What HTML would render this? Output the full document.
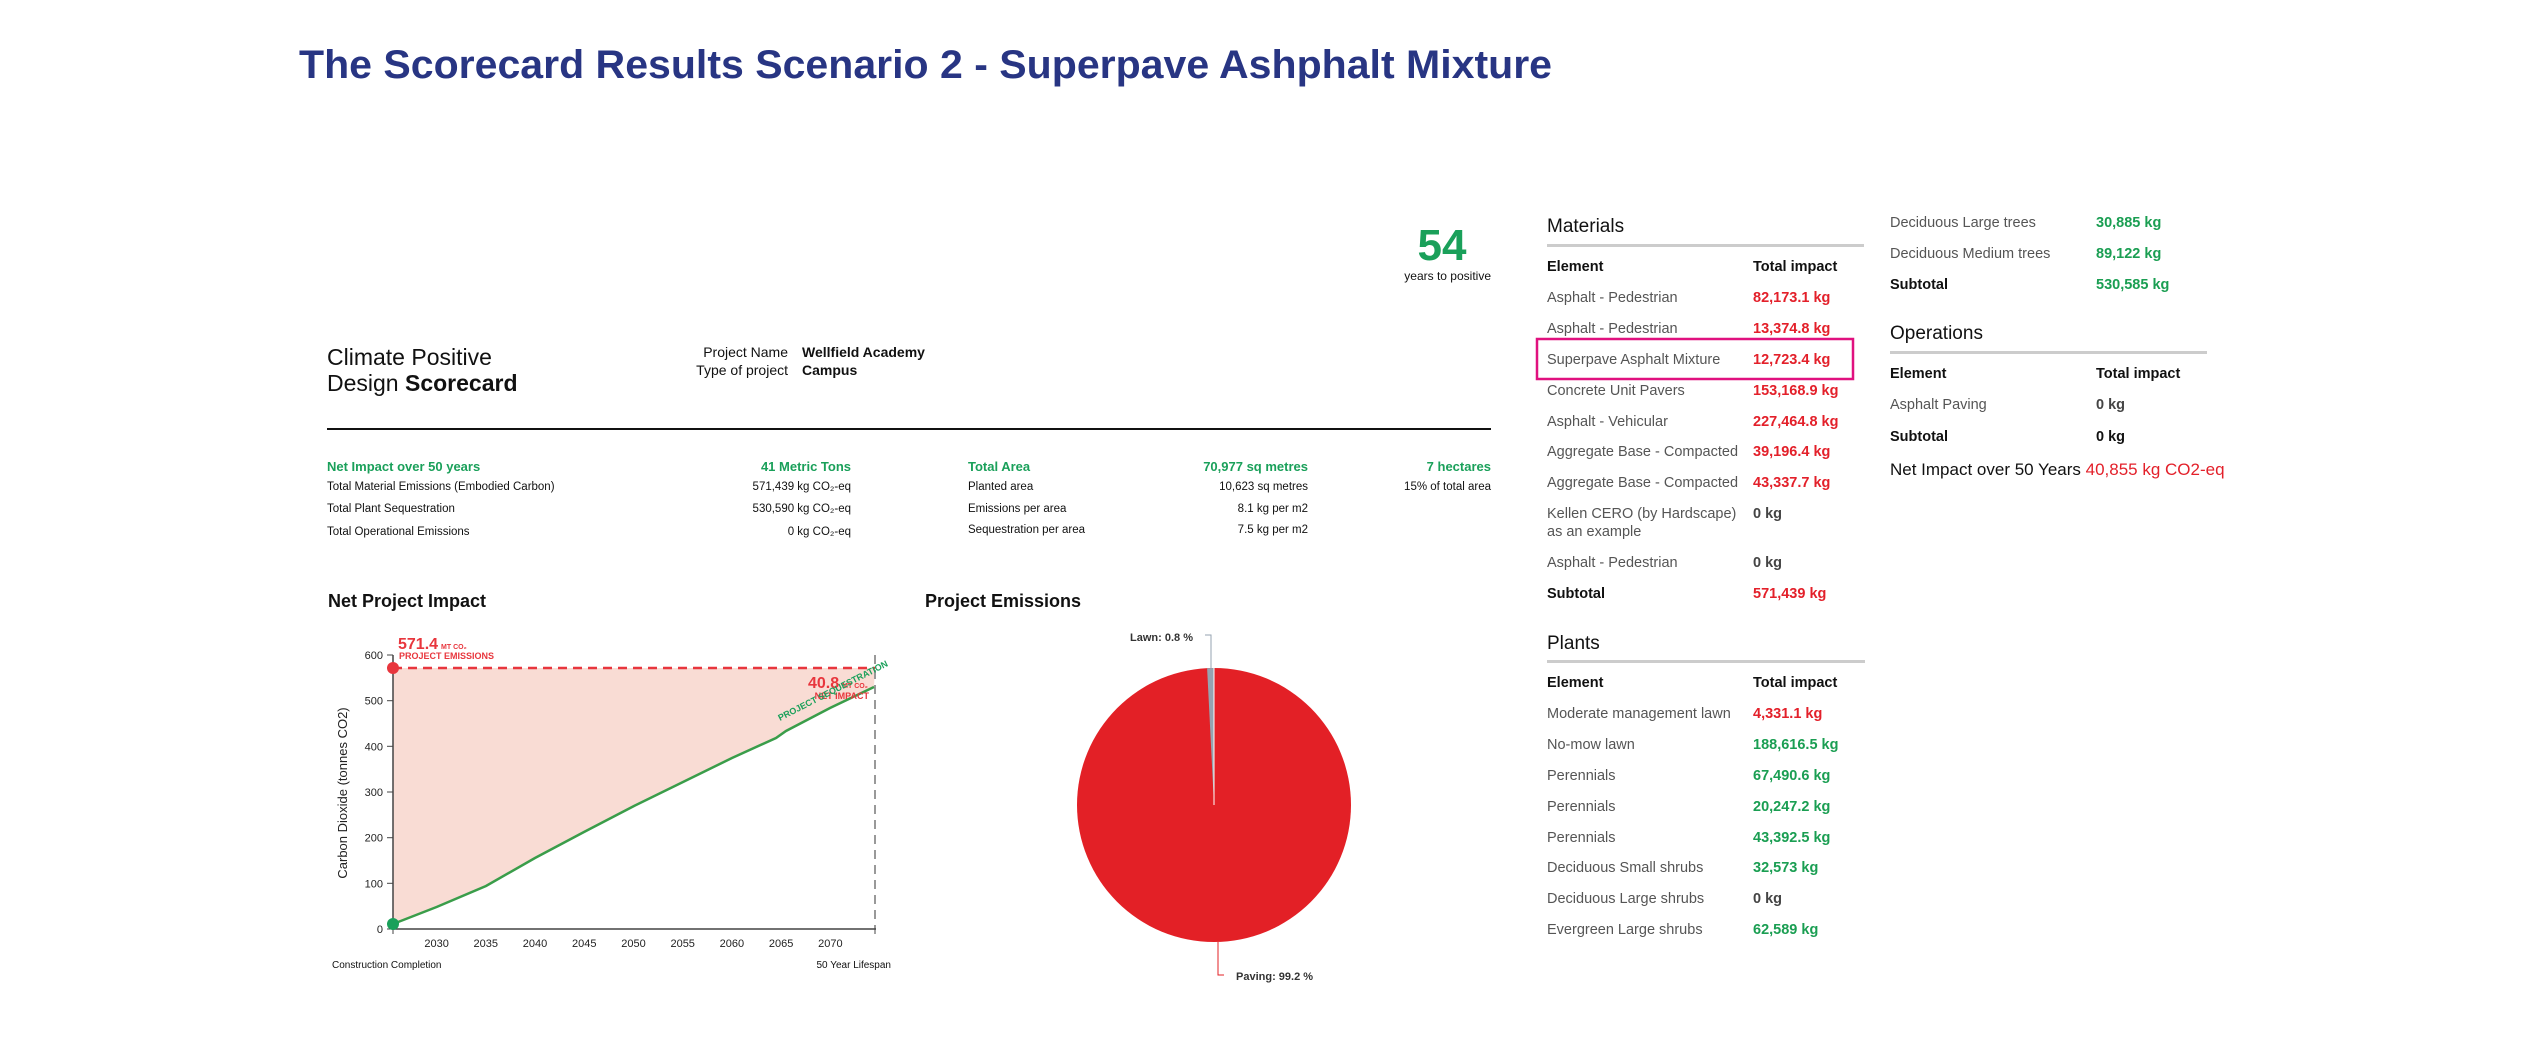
<!DOCTYPE html>
<html><head><meta charset="utf-8"><style>
html,body{margin:0;padding:0;background:#fff;}
svg{display:block;font-family:"Liberation Sans",Arial,sans-serif;}
</style></head><body>
<svg width="2544" height="1045" viewBox="0 0 2544 1045" xmlns="http://www.w3.org/2000/svg">
<rect width="2544" height="1045" fill="#fff"/>
<text x="299" y="78" font-size="40" font-weight="bold" fill="#283583" textLength="1253" lengthAdjust="spacingAndGlyphs">The Scorecard Results Scenario 2 - Superpave Ashphalt Mixture</text>

<text x="1442" y="260" font-size="44" font-weight="bold" fill="#1aa05a" text-anchor="middle">54</text>
<text x="1491" y="280" font-size="12" fill="#111" text-anchor="end">years to positive</text>

<text x="327" y="365" font-size="23" fill="#111">Climate Positive</text>
<text x="327" y="391" font-size="23" fill="#111">Design <tspan font-weight="bold">Scorecard</tspan></text>
<text x="788" y="357" font-size="14" fill="#111" text-anchor="end">Project Name</text>
<text x="788" y="375" font-size="14" fill="#111" text-anchor="end">Type of project</text>
<text x="802" y="357" font-size="14" font-weight="bold" fill="#111">Wellfield Academy</text>
<text x="802" y="375" font-size="14" font-weight="bold" fill="#111">Campus</text>
<rect x="327" y="428" width="1164" height="2" fill="#111"/>

<g font-size="13" font-weight="bold" fill="#1aa05a">
<text x="327" y="471">Net Impact over 50 years</text>
<text x="851" y="471" text-anchor="end">41 Metric Tons</text>
<text x="968" y="471">Total Area</text>
<text x="1308" y="471" text-anchor="end">70,977 sq metres</text>
<text x="1491" y="471" text-anchor="end">7 hectares</text>
</g>
<g font-size="11.5" fill="#111">
<text x="327" y="490">Total Material Emissions (Embodied Carbon)</text>
<text x="327" y="512">Total Plant Sequestration</text>
<text x="327" y="535">Total Operational Emissions</text>
<text x="851" y="490" text-anchor="end">571,439 kg CO₂-eq</text>
<text x="851" y="512" text-anchor="end">530,590 kg CO₂-eq</text>
<text x="851" y="535" text-anchor="end">0 kg CO₂-eq</text>
<text x="968" y="490">Planted area</text>
<text x="968" y="512">Emissions per area</text>
<text x="968" y="533">Sequestration per area</text>
<text x="1308" y="490" text-anchor="end">10,623 sq metres</text>
<text x="1308" y="512" text-anchor="end">8.1 kg per m2</text>
<text x="1308" y="533" text-anchor="end">7.5 kg per m2</text>
<text x="1491" y="490" text-anchor="end">15% of total area</text>
</g>

<text x="328" y="607" font-size="18" font-weight="bold" fill="#111">Net Project Impact</text>
<text x="925" y="607" font-size="18" font-weight="bold" fill="#111">Project Emissions</text>

<!-- line chart -->
<polygon points="393,668 875,668 874,687 830,708 786,731 776,738 732,758 683,782 634,806 584,832 535,858 486,886 436.6,907 393,924" fill="#f9dcd4"/>
<line x1="393" y1="668" x2="875" y2="668" stroke="#e8363d" stroke-width="2.5" stroke-dasharray="9,6"/>
<line x1="875" y1="655" x2="875" y2="929" stroke="#999" stroke-width="2" stroke-dasharray="9,6"/>
<polyline points="393,924 436.6,907 486,886 535,858 584,832 634,806 683,782 732,758 776,738 786,731 830,708 874,687" fill="none" stroke="#3a9d4a" stroke-width="2.5"/>
<line x1="393" y1="655" x2="393" y2="930" stroke="#444" stroke-width="1.5"/>
<line x1="392" y1="929" x2="876" y2="929" stroke="#444" stroke-width="1.5"/>
<g stroke="#444" stroke-width="1">
<line x1="387" y1="655" x2="393" y2="655"/><line x1="387" y1="700.7" x2="393" y2="700.7"/>
<line x1="387" y1="746.3" x2="393" y2="746.3"/><line x1="387" y1="792" x2="393" y2="792"/>
<line x1="387" y1="837.7" x2="393" y2="837.7"/><line x1="387" y1="883.3" x2="393" y2="883.3"/>
<line x1="387" y1="929" x2="393" y2="929"/>
<line x1="393" y1="929" x2="393" y2="934"/><line x1="875" y1="929" x2="875" y2="934"/>
</g>
<g font-size="11" fill="#222" text-anchor="end">
<text x="383" y="659">600</text><text x="383" y="704.7">500</text><text x="383" y="750.3">400</text>
<text x="383" y="796">300</text><text x="383" y="841.7">200</text><text x="383" y="887.3">100</text><text x="383" y="933">0</text>
</g>
<g font-size="11" fill="#222" text-anchor="middle">
<text x="436.6" y="947">2030</text><text x="485.8" y="947">2035</text><text x="535" y="947">2040</text>
<text x="584.3" y="947">2045</text><text x="633.5" y="947">2050</text><text x="682.7" y="947">2055</text>
<text x="731.9" y="947">2060</text><text x="781.1" y="947">2065</text><text x="830.4" y="947">2070</text>
</g>
<text transform="translate(347,793) rotate(-90)" font-size="13" fill="#222" text-anchor="middle">Carbon Dioxide (tonnes CO2)</text>
<text x="332" y="968" font-size="10" fill="#111">Construction Completion</text>
<text x="891" y="968" font-size="10" fill="#111" text-anchor="end">50 Year Lifespan</text>
<circle cx="393" cy="668" r="6" fill="#e8363d"/>
<circle cx="393" cy="924" r="6" fill="#1aa05a"/>
<text x="398" y="649" font-size="16" font-weight="bold" fill="#e8363d">571.4<tspan font-size="7" dx="3">MT CO₂</tspan></text>
<text x="399" y="659" font-size="9" font-weight="bold" fill="#e8363d">PROJECT EMISSIONS</text>
<text x="808" y="688" font-size="16" font-weight="bold" fill="#e8363d">40.8<tspan font-size="7" dx="3">MT CO₂</tspan></text>
<text x="869" y="699" font-size="9" font-weight="bold" fill="#e8363d" text-anchor="end">NET IMPACT</text>
<text transform="translate(780,721) rotate(-27)" font-size="9" font-weight="bold" fill="#1aa05a">PROJECT SEQUESTRATION</text>

<!-- pie -->
<circle cx="1214" cy="805" r="137" fill="#e32026"/>
<path d="M1214,805 L1214,668 A137,137 0 0,0 1207.1,668.2 Z" fill="#95a3b0"/>
<line x1="1214" y1="805" x2="1214" y2="668" stroke="#fff" stroke-width="1"/>
<polyline points="1211,669 1211,635 1205,635" fill="none" stroke="#95a3b0" stroke-width="1"/>
<polyline points="1218,942 1218,975 1224,975" fill="none" stroke="#e32026" stroke-width="1"/>
<text x="1193" y="641" font-size="11" font-weight="bold" fill="#333" text-anchor="end">Lawn: 0.8 %</text>
<text x="1236" y="980" font-size="11" font-weight="bold" fill="#333">Paving: 99.2 %</text>

<!-- Materials -->
<text x="1547" y="232" font-size="19" fill="#111">Materials</text>
<rect x="1547" y="244" width="317" height="3" fill="#ccc"/>
<g font-size="14.5">
<text x="1547" y="271" font-weight="bold" fill="#111">Element</text>
<text x="1753" y="271" font-weight="bold" fill="#111">Total impact</text>
<g fill="#555">
<text x="1547" y="302">Asphalt - Pedestrian</text>
<text x="1547" y="333">Asphalt - Pedestrian</text>
<text x="1547" y="364">Superpave Asphalt Mixture</text>
<text x="1547" y="395">Concrete Unit Pavers</text>
<text x="1547" y="426">Asphalt - Vehicular</text>
<text x="1547" y="456">Aggregate Base - Compacted</text>
<text x="1547" y="487">Aggregate Base - Compacted</text>
<text x="1547" y="518">Kellen CERO (by Hardscape)</text>
<text x="1547" y="536">as an example</text>
<text x="1547" y="567">Asphalt - Pedestrian</text>
</g>
<g fill="#e3202a" font-weight="bold">
<text x="1753" y="302">82,173.1 kg</text>
<text x="1753" y="333">13,374.8 kg</text>
<text x="1753" y="364">12,723.4 kg</text>
<text x="1753" y="395">153,168.9 kg</text>
<text x="1753" y="426">227,464.8 kg</text>
<text x="1753" y="456">39,196.4 kg</text>
<text x="1753" y="487">43,337.7 kg</text>
<text x="1753" y="598">571,439 kg</text>
</g>
<text x="1753" y="518" fill="#444" font-weight="bold">0 kg</text>
<text x="1753" y="567" fill="#444" font-weight="bold">0 kg</text>
<text x="1547" y="598" fill="#111" font-weight="bold">Subtotal</text>
</g>
<rect x="1537" y="339" width="316" height="40" fill="none" stroke="#e0117f" stroke-width="2.5"/>

<!-- Plants -->
<text x="1547" y="649" font-size="19" fill="#111">Plants</text>
<rect x="1547" y="660" width="318" height="3" fill="#ccc"/>
<g font-size="14.5">
<text x="1547" y="687" font-weight="bold" fill="#111">Element</text>
<text x="1753" y="687" font-weight="bold" fill="#111">Total impact</text>
<g fill="#555">
<text x="1547" y="718">Moderate management lawn</text>
<text x="1547" y="749">No-mow lawn</text>
<text x="1547" y="780">Perennials</text>
<text x="1547" y="811">Perennials</text>
<text x="1547" y="842">Perennials</text>
<text x="1547" y="872">Deciduous Small shrubs</text>
<text x="1547" y="903">Deciduous Large shrubs</text>
<text x="1547" y="934">Evergreen Large shrubs</text>
</g>
<text x="1753" y="718" fill="#e3202a" font-weight="bold">4,331.1 kg</text>
<g fill="#1a9e52" font-weight="bold">
<text x="1753" y="749">188,616.5 kg</text>
<text x="1753" y="780">67,490.6 kg</text>
<text x="1753" y="811">20,247.2 kg</text>
<text x="1753" y="842">43,392.5 kg</text>
<text x="1753" y="872">32,573 kg</text>
<text x="1753" y="934">62,589 kg</text>
</g>
<text x="1753" y="903" fill="#444" font-weight="bold">0 kg</text>
</g>

<!-- Right column -->
<g font-size="14.5">
<text x="1890" y="227" fill="#555">Deciduous Large trees</text>
<text x="1890" y="258" fill="#555">Deciduous Medium trees</text>
<text x="1890" y="289" fill="#111" font-weight="bold">Subtotal</text>
<text x="2096" y="227" fill="#1a9e52" font-weight="bold">30,885 kg</text>
<text x="2096" y="258" fill="#1a9e52" font-weight="bold">89,122 kg</text>
<text x="2096" y="289" fill="#1a9e52" font-weight="bold">530,585 kg</text>
</g>
<text x="1890" y="339" font-size="19" fill="#111">Operations</text>
<rect x="1890" y="351" width="317" height="3" fill="#ccc"/>
<g font-size="14.5">
<text x="1890" y="378" font-weight="bold" fill="#111">Element</text>
<text x="2096" y="378" font-weight="bold" fill="#111">Total impact</text>
<text x="1890" y="409" fill="#555">Asphalt Paving</text>
<text x="2096" y="409" fill="#444" font-weight="bold">0 kg</text>
<text x="1890" y="441" fill="#111" font-weight="bold">Subtotal</text>
<text x="2096" y="441" fill="#111" font-weight="bold">0 kg</text>
</g>
<text x="1890" y="475" font-size="17" fill="#111">Net Impact over 50 Years <tspan fill="#e3202a">40,855 kg CO2-eq</tspan></text>
</svg>
</body></html>
